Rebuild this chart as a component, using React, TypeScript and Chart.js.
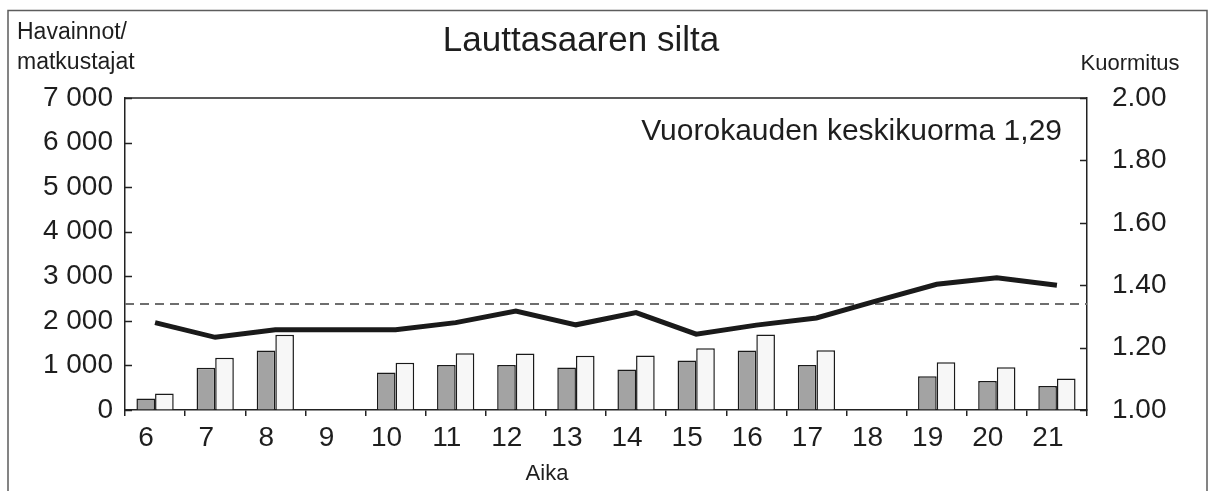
import React, { useEffect, useRef } from 'react';
import { Chart, registerables } from 'chart.js';

Chart.register(...registerables);

// ---- data ----
const HOURS = ['6', '7', '8', '9', '10', '11', '12', '13', '14', '15', '16', '17', '18', '19', '20', '21'];
const OBSERVATIONS = [259, 948, 1333, null, 844, 1007, 1007, 955, 906, 1113, 1334, 1010, null, 759, 648, 538];
const PASSENGERS = [370, 1170, 1689, null, 1059, 1274, 1267, 1215, 1223, 1385, 1695, 1341, null, 1069, 958, 707];
const LOAD = [1.28, 1.233, 1.257, 1.257, 1.257, 1.28, 1.317, 1.273, 1.312, 1.243, 1.272, 1.295, 1.35, 1.403, 1.424, 1.4];
const REFERENCE_LOAD = 1.34;
const LEFT_MIN = 0;
const LEFT_MAX = 7000;
const LEFT_STEP = 1000;
const RIGHT_MIN = 1;
const RIGHT_MAX = 2;
const RIGHT_STEP = 0.2;

const TITLE = 'Lauttasaaren silta';
const LEFT_TITLE = ['Havainnot/', 'matkustajat'];
const RIGHT_TITLE = 'Kuormitus';
const X_TITLE = 'Aika';
const NOTE = 'Vuorokauden keskikuorma 1,29';

const FONT = '"Liberation Sans", Arial, Helvetica, sans-serif';
const INK = '#1e1e1e';

const fmtThousands = (v: number) => String(v).replace(/\B(?=(\d{3})+(?!\d))/g, ' ');

const decor = {
  id: 'decor',
  beforeDraw(chart: any) {
    const { ctx, width, height } = chart;
    ctx.save();
    ctx.fillStyle = '#ffffff';
    ctx.fillRect(0, 0, width, height);
    ctx.strokeStyle = '#5c5c5c';
    ctx.lineWidth = 1.5;
    ctx.beginPath();
    ctx.moveTo(8, height);
    ctx.lineTo(8, 10.5);
    ctx.lineTo(1207, 10.5);
    ctx.lineTo(1207, height);
    ctx.stroke();
    ctx.restore();
  },
  beforeDatasetsDraw(chart: any) {
    const { ctx, chartArea } = chart;
    const y = chart.scales.y1.getPixelForValue(REFERENCE_LOAD);
    ctx.save();
    ctx.strokeStyle = '#6e6e6e';
    ctx.lineWidth = 2;
    ctx.setLineDash([9, 6]);
    ctx.beginPath();
    ctx.moveTo(chartArea.left, y);
    ctx.lineTo(chartArea.right, y);
    ctx.stroke();
    ctx.restore();
  },
  afterDraw(chart: any) {
    const { ctx, chartArea } = chart;
    const yl = chart.scales.y;
    const yr = chart.scales.y1;
    ctx.save();
    ctx.strokeStyle = '#222';
    ctx.lineWidth = 1.5;
    // top frame of plot
    ctx.beginPath();
    ctx.moveTo(chartArea.left, chartArea.top);
    ctx.lineTo(chartArea.right, chartArea.top);
    ctx.stroke();
    // inside tick marks
    ctx.beginPath();
    yl.ticks.forEach((t: any) => {
      const p = Math.round(yl.getPixelForValue(t.value)) + 0.5;
      ctx.moveTo(chartArea.left, p);
      ctx.lineTo(chartArea.left + 7, p);
    });
    yr.ticks.forEach((t: any) => {
      const p = Math.round(yr.getPixelForValue(t.value)) + 0.5;
      ctx.moveTo(chartArea.right, p);
      ctx.lineTo(chartArea.right - 7, p);
    });
    ctx.stroke();

    ctx.fillStyle = INK;
    ctx.textBaseline = 'alphabetic';
    ctx.textAlign = 'center';
    ctx.font = `35px ${FONT}`;
    ctx.fillText(TITLE, 581, 51);

    ctx.textAlign = 'left';
    ctx.font = `23px ${FONT}`;
    ctx.fillText(LEFT_TITLE[0], 17, 39);
    ctx.fillText(LEFT_TITLE[1], 17, 69);

    ctx.textAlign = 'center';
    ctx.font = `22px ${FONT}`;
    ctx.fillText(RIGHT_TITLE, 1130, 70);
    ctx.fillText(X_TITLE, 547, 480);

    ctx.textAlign = 'right';
    ctx.font = `30px ${FONT}`;
    ctx.fillText(NOTE, 1062, 140);
    ctx.restore();
  },
};

export default function App() {
  const canvasRef = useRef<HTMLCanvasElement | null>(null);

  useEffect(() => {
    if (!canvasRef.current) return;
    const tickFont = { family: FONT, size: 28 };
    const chart = new Chart(canvasRef.current, {
      type: 'bar',
      data: {
        labels: HOURS,
        datasets: [
          {
            type: 'line',
            label: 'Kuormitus',
            data: LOAD,
            yAxisID: 'y1',
            borderColor: '#1a1a1a',
            borderWidth: 5,
            pointRadius: 0,
            tension: 0,
            fill: false,
            order: 0,
          } as any,
          {
            label: 'Havainnot',
            data: OBSERVATIONS,
            yAxisID: 'y',
            backgroundColor: '#a3a3a3',
            borderColor: '#1a1a1a',
            borderWidth: 1.5,
            categoryPercentage: 0.62,
            barPercentage: 1.0,
            order: 1,
          },
          {
            label: 'Matkustajat',
            data: PASSENGERS,
            yAxisID: 'y',
            backgroundColor: '#f7f7f7',
            borderColor: '#1a1a1a',
            borderWidth: 1.5,
            categoryPercentage: 0.62,
            barPercentage: 1.0,
            order: 1,
          },
        ],
      },
      options: {
        responsive: false,
        animation: false,
        devicePixelRatio: 1,
        layout: { padding: { top: 98, left: 0, right: 0, bottom: 0 } },
        plugins: {
          legend: { display: false },
          tooltip: { enabled: false },
          title: { display: false },
        },
        scales: {
          x: {
            offset: true,
            grid: {
              offset: true,
              drawOnChartArea: false,
              drawTicks: true,
              tickLength: 6,
              color: '#222',
              lineWidth: 1.5,
            },
            border: { display: true, color: '#222', width: 1.5 },
            ticks: {
              color: INK,
              font: tickFont,
              padding: 5,
              labelOffset: -9,
              autoSkip: false,
              maxRotation: 0,
            },
            afterFit: (s: any) => {
              s.height = 81;
            },
          },
          y: {
            position: 'left',
            min: LEFT_MIN,
            max: LEFT_MAX,
            grid: { drawOnChartArea: false, drawTicks: false },
            border: { display: true, color: '#222', width: 1.5 },
            ticks: {
              stepSize: LEFT_STEP,
              color: INK,
              font: tickFont,
              padding: 12,
              callback: (v: any) => fmtThousands(Number(v)),
            },
            afterFit: (s: any) => {
              s.width = 125;
            },
          },
          y1: {
            position: 'right',
            min: RIGHT_MIN,
            max: RIGHT_MAX,
            grid: { drawOnChartArea: false, drawTicks: false },
            border: { display: true, color: '#222', width: 1.5 },
            ticks: {
              stepSize: RIGHT_STEP,
              color: INK,
              font: tickFont,
              padding: 25,
              callback: (v: any) => Number(v).toFixed(2),
            },
            afterFit: (s: any) => {
              s.width = 126;
            },
          },
        },
      },
      plugins: [decor],
    });
    return () => chart.destroy();
  }, []);

  return (
    <div style={{ position: 'fixed', left: 0, top: 0, width: 1213, height: 491, background: '#fff' }}>
      <canvas ref={canvasRef} width={1213} height={491} style={{ width: 1213, height: 491, display: 'block' }} />
    </div>
  );
}
